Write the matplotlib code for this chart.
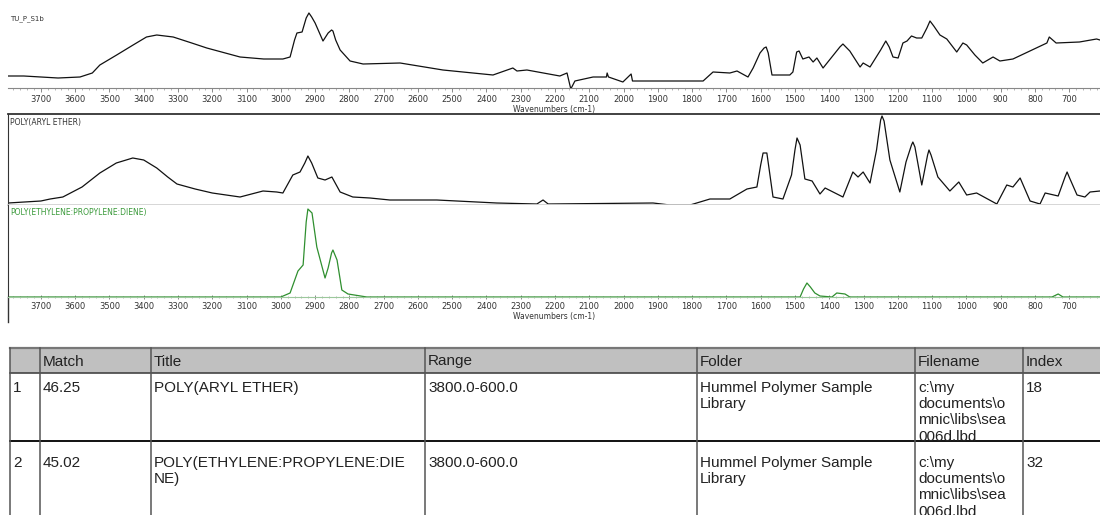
import matplotlib
matplotlib.use('agg')
import matplotlib.pyplot as plt
from matplotlib.ticker import MultipleLocator

# sample spectrum (TU_P_S1b), arbitrary absorbance units
sample_wn = [3796, 3750, 3700, 3650, 3586, 3550, 3528, 3479, 3431, 3392, 3362, 3314,
             3260, 3216, 3119, 3050, 2994, 2973, 2960, 2953, 2938, 2926, 2918, 2910,
             2900, 2877, 2862, 2852, 2848, 2840, 2827, 2798, 2760, 2652, 2527, 2381,
             2323, 2311, 2282, 2186, 2165, 2154, 2142, 2089, 2050, 2048, 2044, 2002,
             1978, 1974, 1894, 1768, 1739, 1690, 1669, 1637, 1622, 1602, 1590, 1584,
             1578, 1567, 1515, 1506, 1495, 1488, 1477, 1459, 1447, 1436, 1418, 1390,
             1369, 1360, 1340, 1310, 1301, 1281, 1250, 1235, 1225, 1214, 1199, 1185,
             1173, 1160, 1145, 1130, 1115, 1106, 1095, 1077, 1057, 1028, 1010, 999,
             975, 952, 922, 902, 864, 765, 758, 738, 670, 620, 610]
sample_abs = [12, 12, 11, 10, 11, 15, 23, 33, 43, 51, 53, 51,
              45, 40, 31, 29, 29, 31, 48, 55, 56, 70, 75, 71,
              65, 47, 55, 58, 57, 48, 38, 27, 24, 25, 18, 13,
              20, 17, 18, 12, 15, -1, 7, 11, 11, 15, 11, 6,
              14, 7, 7, 7, 16, 15, 17, 11, 20, 35, 40, 41,
              35, 13, 13, 16, 36, 37, 29, 31, 26, 30, 20, 32,
              41, 44, 37, 21, 25, 21, 38, 47, 41, 31, 30, 45,
              47, 52, 50, 50, 60, 67, 62, 53, 49, 36, 45, 43,
              33, 25, 31, 27, 29, 45, 51, 45, 46, 49, 48]

# library hit 1: POLY(ARYL ETHER)
ether_wn = [3796, 3700, 3673, 3636, 3580, 3528, 3480, 3432, 3400, 3362, 3330, 3303,
            3250, 3200, 3119, 3052, 3012, 2994, 2965, 2944, 2930, 2921, 2910, 2892,
            2871, 2851, 2827, 2790, 2740, 2682, 2545, 2370, 2253, 2235, 2220, 1914,
            1865, 1806, 1748, 1690, 1640, 1611, 1600, 1593, 1582, 1575, 1564, 1535,
            1510, 1500, 1494, 1485, 1471, 1450, 1427, 1412, 1360, 1331, 1316, 1301,
            1281, 1262, 1250, 1246, 1240, 1223, 1194, 1176, 1160, 1156, 1150, 1130,
            1113, 1109, 1103, 1083, 1048, 1022, 999, 970, 911, 882, 864, 843, 814,
            785, 770, 732, 712, 706, 700, 677, 654, 639, 610]
ether_abs = [2, 4, 6, 8, 18, 32, 42, 47, 45, 37, 28, 21,
             16, 12, 8, 14, 13, 12, 30, 33, 42, 49, 42, 27,
             25, 28, 13, 8, 7, 5, 5, 2, 1, 5, 1, 2,
             0, 0, 6, 6, 16, 18, 40, 52, 52, 35, 8, 6,
             30, 55, 67, 60, 26, 24, 11, 17, 8, 33, 28, 33,
             22, 55, 85, 89, 84, 45, 13, 43, 60, 63, 58, 20,
             50, 55, 50, 28, 14, 23, 10, 12, 1, 20, 18, 27, 4,
             1, 12, 9, 28, 33, 28, 10, 8, 13, 14]

# library hit 2: POLY(ETHYLENE:PROPYLENE:DIENE)
epdm_wn = [3796, 3000, 2973, 2950, 2935, 2926, 2921, 2909, 2895, 2871, 2862, 2852,
           2848, 2836, 2822, 2804, 2749, 1485, 1475, 1465, 1455, 1442, 1427, 1392,
           1378, 1354, 1340, 750, 732, 718, 610]
epdm_abs = [0, 0, 4, 26, 32, 75, 88, 84, 50, 19, 29, 44,
            47, 37, 7, 3, 0, 0, 8, 14, 10, 4, 1, 0,
            4, 3, 0, 0, 3, 0, 0]

# search results table
col_names = ['', 'Match', 'Title', 'Range', 'Folder', 'Filename', 'Index']
row_1 = ['1', '46.25', 'POLY(ARYL ETHER)', '3800.0-600.0',
         'Hummel Polymer Sample\nLibrary',
         'c:\\my\ndocuments\\o\nmnic\\libs\\sea\n006d.lbd', '18']
row_2 = ['2', '45.02', 'POLY(ETHYLENE:PROPYLENE:DIE\nNE)', '3800.0-600.0',
         'Hummel Polymer Sample\nLibrary',
         'c:\\my\ndocuments\\o\nmnic\\libs\\sea\n006d.lbd', '32']

W, H = 1100, 515
small = ['Liberation Sans Narrow', 'DejaVu Sans']

fig = plt.figure(figsize=(W / 100, H / 100), dpi=100)

# background axes in pixel units, used for the table and frame lines
bg = fig.add_axes([0, 0, 1, 1])
bg.set_xlim(0, W)
bg.set_ylim(H, 0)
bg.axis('off')


def px_axes(x0, y0, x1, y1):
    return fig.add_axes([x0 / W, 1 - y1 / H, (x1 - x0) / W, (y1 - y0) / H])


def wn_axis(ax):
    ax.set_xlim(3796, 610)
    ax.xaxis.set_major_locator(MultipleLocator(100))
    ax.xaxis.set_minor_locator(MultipleLocator(20))
    ax.tick_params(axis='x', which='major', length=3, width=0.6, color='#777777',
                   labelsize=6, labelcolor='#333333', pad=2)
    ax.tick_params(axis='x', which='minor', length=1.5, width=0.5, color='#999999')
    for lab in ax.get_xticklabels():
        lab.set_family(small)
    ax.set_xlabel('Wavenumbers (cm-1)', fontsize=5.5, family=small, color='#333333',
                  labelpad=1)
    ax.set_yticks([])


# top: sample spectrum
ax1 = px_axes(8, 0, W, 88)
ax1.plot(sample_wn, sample_abs, color='#111111', lw=0.9)
ax1.set_ylim(0, 88)
wn_axis(ax1)
for s in ['top', 'left', 'right']:
    ax1.spines[s].set_visible(False)
ax1.spines['bottom'].set_color('#888888')
ax1.spines['bottom'].set_linewidth(0.8)
ax1.text(0.002, 0.83, 'TU_P_S1b', fontsize=5, family=small, color='#333333',
         transform=ax1.transAxes, va='top')

# middle: poly(aryl ether)
ax2 = px_axes(8, 114, W, 205)
ax2.plot(ether_wn, ether_abs, color='#111111', lw=0.9)
ax2.set_xlim(3796, 610)
ax2.set_ylim(0, 91)
ax2.set_xticks([])
ax2.set_yticks([])
ax2.spines['right'].set_visible(False)
ax2.spines['top'].set_color('#333333')
ax2.spines['top'].set_linewidth(1.3)
ax2.spines['left'].set_color('#333333')
ax2.spines['bottom'].set_color('#d0d0d0')
ax2.spines['bottom'].set_linewidth(1.2)
ax2.text(0.002, 0.96, 'POLY(ARYL ETHER)', fontsize=5.5, family=small,
         color='#333333', transform=ax2.transAxes, va='top')

# bottom: poly(ethylene:propylene:diene)
ax3 = px_axes(8, 205, W, 297)
ax3.plot(epdm_wn, epdm_abs, color='#2f8f2f', lw=0.9)
ax3.set_ylim(0, 92)
wn_axis(ax3)
ax3.tick_params(axis='x', which='both', direction='inout')
ax3.spines['top'].set_visible(False)
ax3.spines['right'].set_visible(False)
ax3.spines['left'].set_color('#333333')
ax3.spines['bottom'].set_color('#9cc89c')
ax3.text(0.002, 0.97, 'POLY(ETHYLENE:PROPYLENE:DIENE)', fontsize=5.5, family=small,
         color='#3a9a3a', transform=ax3.transAxes, va='top')

# left frame line continues below the bottom panel
bg.plot([8, 8], [297, 322], color='#333333', lw=1)

# table
col_x = [10, 40, 151, 425, 697, 915, 1023, W]
head_top, head_bot, row_sep = 348, 373, 441
bg.add_patch(plt.Rectangle((col_x[0], head_top), W - col_x[0], head_bot - head_top,
                           facecolor='#c0c0c0', edgecolor='none'))
bg.plot([col_x[0], W], [head_top, head_top], color='#777777', lw=1.6)
bg.plot([col_x[0], W], [head_bot, head_bot], color='#444444', lw=1.2)
bg.plot([col_x[0], W], [row_sep, row_sep], color='#111111', lw=1.4)
for x in col_x[:-1]:
    bg.plot([x, x], [head_top, H], color='#555555', lw=1.1)

tfont = dict(family=['Liberation Sans', 'DejaVu Sans'], fontsize=11, color='#222222')
for i, name in enumerate(col_names):
    bg.text(col_x[i] + 3, (head_top + head_bot) / 2 + 1, name, va='center', **tfont)
for top, row in [(head_bot + 8, row_1), (row_sep + 15, row_2)]:
    for i, val in enumerate(row):
        bg.text(col_x[i] + 3, top, val, va='top', linespacing=1.2, **tfont)

fig.savefig('out.png', dpi=100)
